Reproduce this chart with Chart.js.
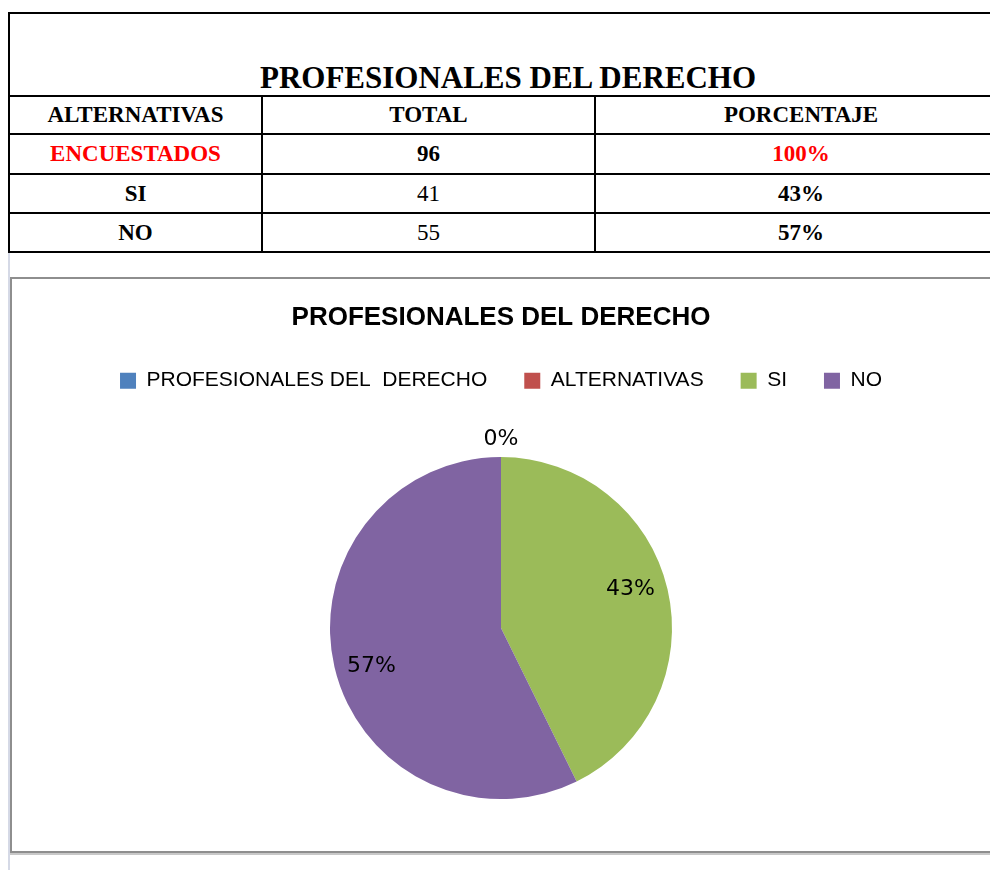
<!DOCTYPE html>
<html>
<head>
<meta charset="utf-8">
<script src="https://cdn.jsdelivr.net/npm/chart.js@4/dist/chart.umd.min.js"></script>
<style>
  html, body { margin: 0; padding: 0; background: #ffffff; width: 990px; height: 870px; overflow: hidden; position: relative; }
  #gridline { position: absolute; left: 8px; top: 252px; width: 2px; height: 618px; background: #d5d9e6; }
  table { position: absolute; left: 8px; top: 12px; border-collapse: collapse; table-layout: fixed; width: 998px;
          font-family: "Liberation Serif", "Times New Roman", serif; font-weight: bold; color: #000; }
  td { border: 2px solid #000; text-align: center; vertical-align: middle; padding: 0; font-size: 23px; line-height: 24px; }
  td.title { font-size: 31px; line-height: 31px; vertical-align: bottom; padding-bottom: 2px; }
  td.norm { font-weight: normal; }
  td.red { color: #ff0000; }
  #chartBox { position: absolute; left: 10px; top: 277px; width: 1000px; height: 572px; border: 2px solid #8e8e8e;
              border-right: none; box-shadow: 0 2px 0 #c8c8c8; background: #fff; }
  #cv { position: absolute; left: 12px; top: 279px; }
</style>
</head>
<body>
<div id="gridline"></div>
<table id="tbl">
  <colgroup><col style="width:253px"><col style="width:333px"><col style="width:412px"></colgroup>
  <tr style="height:83px"><td class="title" colspan="3" id="tblTitle"></td></tr>
  <tr style="height:38px"><td id="h0"></td><td id="h1"></td><td id="h2"></td></tr>
  <tr style="height:40px"><td class="red" id="r0c0"></td><td id="r0c1"></td><td class="red" id="r0c2"></td></tr>
  <tr style="height:39px"><td id="r1c0"></td><td class="norm" id="r1c1"></td><td id="r1c2"></td></tr>
  <tr style="height:39px"><td id="r2c0"></td><td class="norm" id="r2c1"></td><td id="r2c2"></td></tr>
</table>
<div id="chartBox"></div>
<canvas id="cv" width="978" height="576" style="width:978px;height:576px"></canvas>
<script>
// ---- data ----
const chartTitle = "PROFESIONALES DEL DERECHO";
const tableHeaders = ["ALTERNATIVAS", "TOTAL", "PORCENTAJE"];
const rowLabels = ["ENCUESTADOS", "SI", "NO"];
const rowTotals = [96, 41, 55];
const rowPercents = ["100%", "43%", "57%"];

const pieLabels = ["PROFESIONALES DEL  DERECHO", "ALTERNATIVAS", "SI", "NO"];
const pieValues = [0, 0, 41, 55];
const pieColors = ["#4F81BD", "#C0504D", "#9BBB59", "#8064A2"];

// ---- table ----
document.getElementById("tblTitle").textContent = chartTitle;
tableHeaders.forEach((h, i) => document.getElementById("h" + i).textContent = h);
rowLabels.forEach((l, r) => {
  document.getElementById("r" + r + "c0").textContent = l;
  document.getElementById("r" + r + "c1").textContent = rowTotals[r];
  document.getElementById("r" + r + "c2").textContent = rowPercents[r];
});

// ---- data labels plugin ----
const pctLabels = {
  id: "pctLabels",
  afterDatasetsDraw(chart) {
    const ctx = chart.ctx;
    const ds = chart.data.datasets[0];
    const total = ds.data.reduce((a, b) => a + b, 0);
    const meta = chart.getDatasetMeta(0);
    const drawn = new Set();
    ctx.save();
    ctx.font = "22px 'DejaVu Sans'";
    ctx.fillStyle = "#000";
    ctx.textAlign = "center";
    ctx.textBaseline = "middle";
    meta.data.forEach((arc, i) => {
      const p = arc.getProps(["x", "y", "startAngle", "endAngle", "outerRadius"], true);
      const v = ds.data[i];
      let mid = (p.startAngle + p.endAngle) / 2;
      let r;
      if (v > 0) { mid -= 0.06; r = p.outerRadius * 0.79; }
      else { r = p.outerRadius + 18; }
      const x = p.x + Math.cos(mid) * r;
      const y = p.y + Math.sin(mid) * r;
      const key = Math.round(x) + "," + Math.round(y);
      if (drawn.has(key)) return;
      drawn.add(key);
      ctx.fillText(Math.round(v / total * 100) + "%", x, y);
    });
    ctx.restore();
  }
};

new Chart(document.getElementById("cv"), {
  type: "pie",
  data: {
    labels: pieLabels,
    datasets: [{ data: pieValues, backgroundColor: pieColors, borderWidth: 0, radius: 171 }]
  },
  options: {
    responsive: false,
    animation: false,
    events: [],
    layout: { padding: { top: 6, bottom: 0, left: 0, right: 0 } },
    plugins: {
      title: {
        display: true, text: chartTitle, color: "#000",
        font: { family: "'Liberation Sans', Arial, sans-serif", size: 26, weight: "bold", lineHeight: 1.2 },
        padding: { top: 17, bottom: 0 }
      },
      legend: {
        display: true, position: "top",
        labels: {
          color: "#000", boxWidth: 16, boxHeight: 16, padding: 37,
          font: { family: "'Liberation Sans', Arial, sans-serif", size: 21 }
        }
      },
      tooltip: { enabled: false }
    }
  },
  plugins: [pctLabels]
});
</script>
</body>
</html>
